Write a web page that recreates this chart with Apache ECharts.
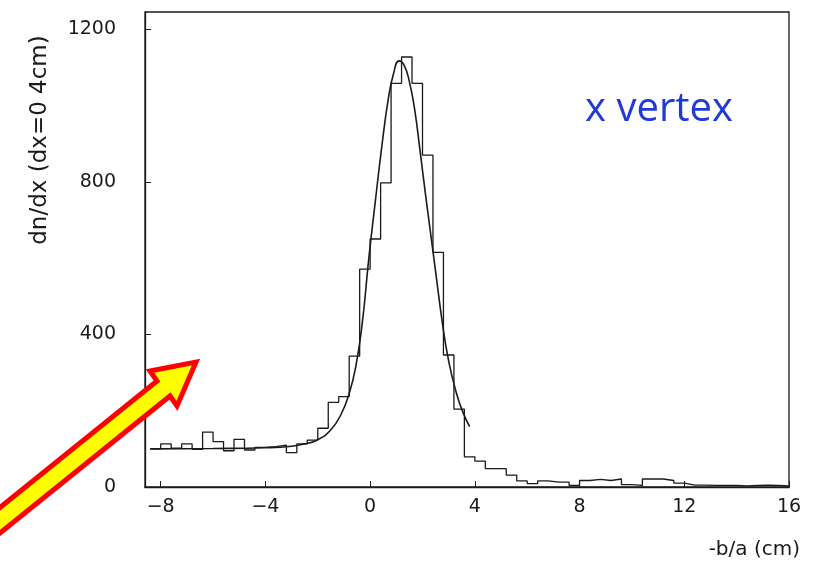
<!DOCTYPE html>
<html>
<head>
<meta charset="utf-8">
<title>x vertex</title>
<script src="https://cdn.jsdelivr.net/npm/echarts@6/dist/echarts.min.js"></script>
<style>
  html, body { margin: 0; padding: 0; background: #fff; }
  #chart { width: 817px; height: 564px; }
</style>
</head>
<body>
<div id="chart"></div>
<script>
// histogram: 0.4 cm bins starting at -8.4
var binStart = -8.4
var binWidth = 0.4
var counts = [
  100, 113, 102, 113, 99, 144, 119, 95, 125, 97,
  104, 106, 110, 90, 113, 123, 154, 222, 237, 343,
  571, 650, 797, 1058, 1127, 1058, 870, 615, 346, 204,
  79, 68, 48, 48, 31, 16, 9, 16, 13, 13,
  4, 17, 20, 17, 21, 6, 4, 21, 21, 17,
  10, 5, 5, 4, 4, 4, 3, 4, 5, 4, 3
]

// fitted curve, points
var fitX = [-8.4, -6, -4, -3, -2.5, -2.0, -1.5, -1.1, -0.8, -0.55, -0.3, -0.05, 0.2, 0.45,
  0.7, 0.9, 1.1, 1.3, 1.5, 1.7, 1.9, 2.1, 2.3, 2.5, 2.75, 3.0, 3.3, 3.55, 3.8]
var fitY = [100, 101, 103, 107, 113, 124, 150, 192, 245, 315, 430, 600, 750, 895,
  1020, 1085, 1117, 1105, 1062, 990, 885, 775, 670, 565, 435, 330, 245, 195, 158]

var xTicks = [-8, -4, 0, 4, 8, 12, 16]

var histData = []
for (var i = 0; i < counts.length; i++) {
  histData.push([binStart + i * binWidth, counts[i]])
}
histData.push([binStart + counts.length * binWidth, counts[counts.length - 1]])

var fitData = fitX.map(function (x, i) { return [x, fitY[i]] })

var ink = '#1a1a1a'
var labelFont = 'DejaVu Sans'

var chart = echarts.init(document.getElementById('chart'))

var option = {
  animation: false,
  backgroundColor: '#fff',
  grid: {
    left: 145, right: 28, top: 12, bottom: 77,
    show: true, borderColor: ink, borderWidth: 1.3
  },
  xAxis: {
    type: 'value',
    min: -8.6,
    max: 16,
    axisLine: { show: true, onZero: false, lineStyle: { color: ink, width: 1.3 } },
    axisTick: { show: true, inside: true, length: 6, customValues: xTicks, lineStyle: { color: ink } },
    axisLabel: {
      customValues: xTicks,
      margin: 11,
      color: ink,
      fontSize: 19,
      fontFamily: labelFont,
      formatter: function (v) { return String(v).replace('-', '\u2212') }
    },
    splitLine: { show: false }
  },
  yAxis: {
    type: 'value',
    min: 0,
    max: 1245,
    interval: 400,
    axisLine: { show: true, onZero: false, lineStyle: { color: ink, width: 1.3 } },
    axisTick: { show: true, inside: true, length: 6, lineStyle: { color: ink } },
    axisLabel: {
      margin: 29,
      color: ink,
      fontSize: 19,
      fontFamily: labelFont,
      showMaxLabel: false,
      formatter: function (v) { return String(v) }
    },
    splitLine: { show: false }
  },
  series: [
    {
      type: 'line',
      data: histData,
      step: 'end',
      symbol: 'none',
      lineStyle: { color: ink, width: 1.3 }
    },
    {
      type: 'line',
      data: fitData,
      smooth: 0.5,
      symbol: 'none',
      lineStyle: { color: ink, width: 1.6 }
    }
  ],
  graphic: [
    {
      type: 'text',
      x: 40, y: 140,
      rotation: Math.PI / 2,
      style: {
        text: 'dn/dx (dx=0 4cm)',
        fontSize: 23,
        fontFamily: labelFont,
        fill: ink,
        align: 'center',
        verticalAlign: 'middle'
      }
    },
    {
      type: 'text',
      x: 800, y: 550,
      style: {
        text: '-b/a (cm)',
        fontSize: 20,
        fontFamily: labelFont,
        fill: ink,
        align: 'right',
        verticalAlign: 'middle'
      }
    },
    {
      type: 'text',
      x: 659, y: 110,
      style: {
        text: 'x vertex',
        fontSize: 40,
        fontFamily: 'Open Sans',
        fill: '#1f3ad6',
        align: 'center',
        verticalAlign: 'middle'
      }
    },
    {
      type: 'polygon',
      z: 100,
      shape: {
        points: [[196, 362], [177, 406], [170, 396], [-31, 558], [-44, 543], [157, 381], [150, 371]]
      },
      style: { fill: '#ffff00', stroke: '#ff0000', lineWidth: 5, lineJoin: 'miter' }
    }
  ]
}

chart.setOption(option)
</script>
</body>
</html>
